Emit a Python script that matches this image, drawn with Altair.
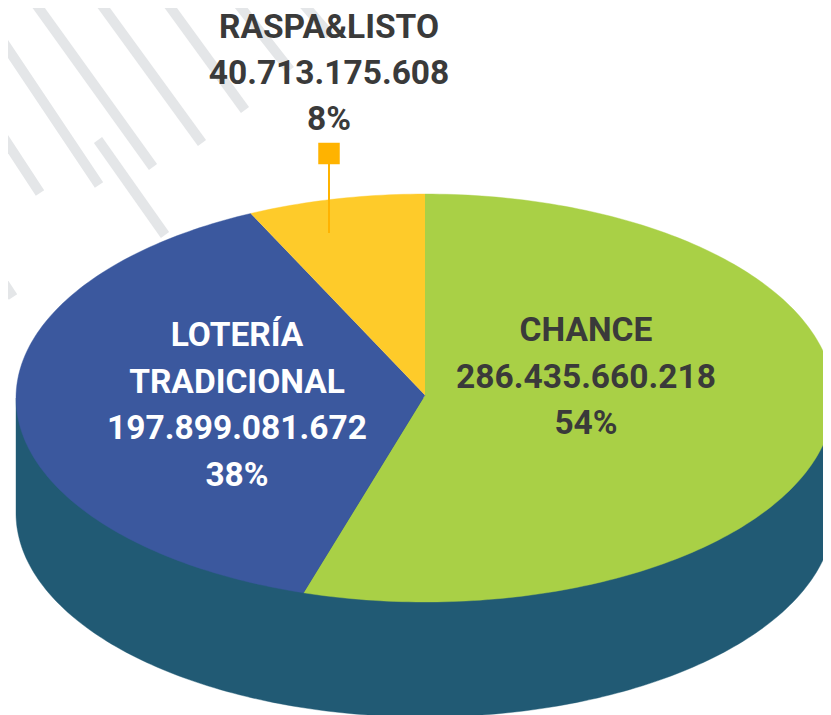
import math
import altair as alt
import pandas as pd

# --- values ---
categories = ["CHANCE", "LOTERÍA TRADICIONAL", "RASPA&LISTO"]
drawn_shares = [54.8, 38.2, 7.0]  # share of the pie as drawn, in percent
slice_colors = ["#a9d046", "#3b589e", "#fecb2a"]
side_color = "#215a74"

label_lines = ["RASPA&LISTO", "40.713.175.608", "8%",
               "CHANCE", "286.435.660.218", "54%",
               "LOTERÍA", "TRADICIONAL", "197.899.081.672", "38%"]
label_x = [329, 329, 329, 586, 586, 586, 237, 237, 237, 237]
label_y = [38, 84, 130, 341, 388, 434, 346, 393, 439, 486]
label_col = ["#3a3a3a"] * 6 + ["#ffffff"] * 4

stripe_x1 = [165, 98, 33, 0, 0, 98, 0, 235, 300]
stripe_y1 = [0, 0, 0, 37, 132, 140, 277, 0, 0]
stripe_x2 = [245, 202, 153, 99, 40, 165, 13, 290, 330]
stripe_y2 = [110, 143, 167, 185, 193, 235, 297, 70, 35]

# pie geometry
CX, CY, RX, RY, DEPTH = 425, 398, 409, 204, 115
APEX_Y = 395

X = alt.X("x:Q", scale=alt.Scale(domain=[8, 823], nice=False, zero=False), axis=None)
Y = alt.Y("y:Q", scale=alt.Scale(domain=[715, 8], nice=False, zero=False), axis=None)


def polygon_layer(points, color):
    df = pd.DataFrame(points, columns=["x", "y"])
    df["i"] = range(len(df))
    return alt.Chart(df).mark_line(fill=color, stroke=color, strokeWidth=0.4, interpolate="linear").encode(
        x=X, y=Y, order="i:Q"
    )


layers = []

stripes = pd.DataFrame({"x": stripe_x1, "y": stripe_y1, "x2": stripe_x2, "y2": stripe_y2})
layers.append(
    alt.Chart(stripes).mark_rule(color="#e4e6e8", strokeWidth=10).encode(x=X, y=Y, x2="x2:Q", y2="y2:Q")
)

# side of the cake: lower half of the shifted ellipse, closed along the top ellipse's widest line
side = [(CX - RX * math.cos(math.radians(d)), CY + DEPTH + RY * math.sin(math.radians(d))) for d in range(0, 181, 1)]
side = [(CX - RX, CY)] + side + [(CX + RX, CY)]
layers.append(polygon_layer(side, side_color))

# top: one wedge per category, sweep proportional to its share, clockwise from 12 o'clock
total = sum(drawn_shares)
start = 0.0
for share, color in zip(drawn_shares, slice_colors):
    sweep = 360.0 * share / total
    n = max(2, int(sweep))
    pts = [(CX, APEX_Y)]
    for k in range(n + 1):
        t = math.radians(start + sweep * k / n)
        pts.append((CX + RX * math.sin(t), CY - RY * math.cos(t)))
    layers.append(polygon_layer(pts, color))
    start += sweep

# callout
layers.append(
    alt.Chart(pd.DataFrame({"x": [329], "y": [153], "y2": [233]}))
    .mark_rule(color="#ffb300", strokeWidth=2)
    .encode(x=X, y=Y, y2="y2:Q")
)
layers.append(
    alt.Chart(pd.DataFrame({"x": [329], "y": [153.5]}))
    .mark_point(shape="square", filled=True, size=462, color="#ffb300", opacity=1)
    .encode(x=X, y=Y)
)

labels = pd.DataFrame({"x": label_x, "y": label_y, "t": label_lines, "c": label_col})
layers.append(
    alt.Chart(labels)
    .mark_text(font="Roboto", fontWeight="bold", fontSize=33.5, align="center", baseline="alphabetic")
    .encode(x=X, y=Y, text="t:N", color=alt.Color("c:N", scale=None))
)

chart = (
    alt.layer(*layers)
    .properties(width=815, height=707, padding=0, autosize=alt.AutoSizeParams(type="none"), background="#ffffff")
    .configure_view(stroke=None)
)
chart.save("out.html", embed_options={"renderer": "svg", "actions": False})
